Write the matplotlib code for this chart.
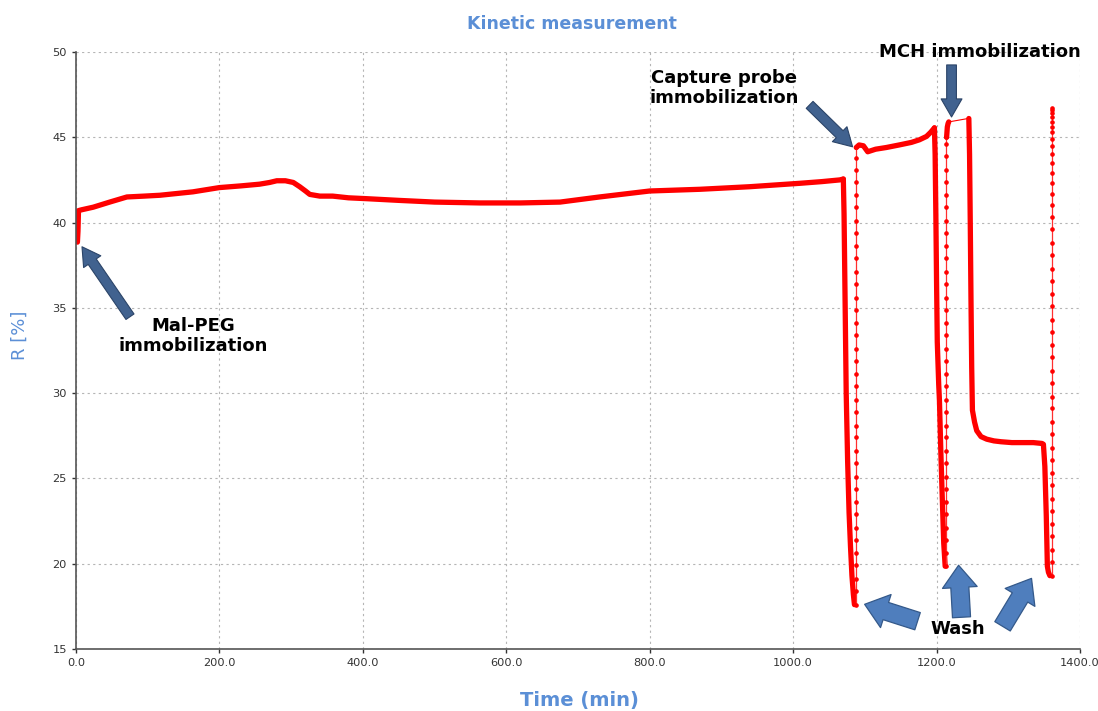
import matplotlib
matplotlib.use("Agg")
import matplotlib.pyplot as plt

# slow (densely sampled) parts of the trace
base_t = [0, 1, 2, 2.8, 3.5, 8, 24, 47, 71, 95, 117, 140, 163, 200, 230, 256, 270, 280, 292, 303,
          312, 320, 326, 340, 358, 380, 405, 450, 500, 563, 620, 675, 730, 800, 870, 939,
          1009, 1040, 1065, 1070]
base_r = [39.2, 38.9, 38.85, 39.5, 40.7, 40.75, 40.9, 41.2, 41.5, 41.55, 41.6, 41.7, 41.8, 42.05, 42.15,
          42.25, 42.35, 42.45, 42.45, 42.35, 42.1, 41.85, 41.65, 41.55, 41.55, 41.45, 41.4, 41.3, 41.2,
          41.15, 41.15, 41.2, 41.5, 41.85, 41.95, 42.1, 42.3, 42.4, 42.5, 42.55]

drop1_t = [1070, 1071, 1072, 1073, 1074, 1076, 1078, 1080, 1082, 1084, 1085.5]
drop1_r = [42.55, 40.5, 37.0, 33.5, 30.0, 26.0, 23.0, 21.0, 19.3, 18.2, 17.6]

probe_t = [1088, 1092, 1098, 1104, 1115, 1130, 1148, 1165, 1176, 1186, 1192, 1197]
probe_r = [44.4, 44.55, 44.5, 44.15, 44.3, 44.4, 44.55, 44.7, 44.85, 45.05, 45.3, 45.55]

drop2_t = [1197, 1198, 1199, 1200, 1201, 1203, 1204, 1206, 1208, 1210, 1212]
drop2_r = [45.55, 44.0, 40.5, 36.5, 33.0, 30.5, 29.6, 26.5, 23.8, 21.2, 19.85]

mch_t = [1214, 1215, 1216, 1217]
mch_r = [45.0, 45.6, 45.8, 45.9]

# gap in acquisition between the two MCH points
gap_t = [1217, 1244]
gap_r = [45.9, 46.1]

drop3_t = [1245, 1246, 1247, 1248, 1249, 1250, 1253, 1256, 1262, 1270, 1280, 1290, 1305,
           1320, 1335, 1347, 1349, 1351, 1353, 1354.5, 1356, 1358]
drop3_r = [46.1, 44.0, 40.0, 35.5, 31.5, 29.0, 28.3, 27.8, 27.45, 27.3, 27.2, 27.15, 27.1,
           27.1, 27.1, 27.05, 27.0, 25.7, 22.8, 19.85, 19.5, 19.3]

# fast rises, sparse samples
rise1_t = 1087
rise1_r = [17.6, 18.4, 19.1, 19.9, 20.6, 21.4, 22.1, 22.9, 23.6, 24.4, 25.1, 25.9, 26.6, 27.4,
           28.1, 28.9, 29.6, 30.4, 31.1, 31.9, 32.6, 33.4, 34.1, 34.9, 35.6, 36.4, 37.1, 37.9,
           38.6, 39.4, 40.1, 40.9, 41.6, 42.4, 43.1, 43.8, 44.4]
rise2_t = 1213.5
rise2_r = [19.85, 20.6, 21.4, 22.1, 22.9, 23.6, 24.4, 25.1, 25.9, 26.6, 27.4, 28.1, 28.9,
           29.6, 30.4, 31.1, 31.9, 32.6, 33.4, 34.1, 34.9, 35.6, 36.4, 37.1, 37.9, 38.6, 39.4,
           40.1, 40.9, 41.6, 42.4, 43.1, 43.9, 44.6, 45.0]
rise3_t = 1361
rise3_r = [19.3, 20.1, 20.8, 21.6, 22.3, 23.1, 23.8, 24.6, 25.3, 26.1, 26.8, 27.6, 28.3, 29.1,
           29.8, 30.6, 31.3, 32.1, 32.8, 33.6, 34.3, 35.1, 35.8, 36.6, 37.3, 38.1, 38.8, 39.6,
           40.3, 41.0, 41.7, 42.3, 42.9, 43.5, 44.0, 44.5, 44.9, 45.3, 45.6, 45.9, 46.2, 46.4, 46.6, 46.7]

x_ticks = [0, 200, 400, 600, 800, 1000, 1200, 1400]
y_ticks = [15, 20, 25, 30, 35, 40, 45, 50]

blue = '#5b8fd6'
red = '#ff0000'

fig = plt.figure(figsize=(10.98, 7.11), dpi=100)
ax = fig.add_axes([0.0692, 0.0872, 0.9144, 0.8397])

thick = dict(color=red, lw=3.8, solid_capstyle='round', solid_joinstyle='round')
for t, r in [(base_t, base_r), (drop1_t, drop1_r), (probe_t, probe_r), (drop2_t, drop2_r),
             (mch_t, mch_r), (drop3_t, drop3_r)]:
    ax.plot(t, r, **thick)
ax.plot(gap_t, gap_r, color=red, lw=0.8)

for t, r in [(rise1_t, rise1_r), (rise2_t, rise2_r), (rise3_t, rise3_r)]:
    ax.plot([t] * len(r), r, color='#ff3030', lw=0.9, marker='o', ms=2.3, mec=red, mfc=red)

ax.set_xlim(0, 1400)
ax.set_ylim(15, 50)
ax.set_xticks(x_ticks)
ax.set_xticklabels(['%.1f' % v for v in x_ticks])
ax.set_yticks(y_ticks)
ax.grid(True, ls=(0, (2, 3)), color='#b5b5b5', lw=0.8)
for s in ['top', 'right']:
    ax.spines[s].set_visible(False)
for s in ['left', 'bottom']:
    ax.spines[s].set_color('#555555')
    ax.spines[s].set_linewidth(1.2)
ax.tick_params(labelsize=8.2, colors='#333333', length=3, width=1)

fig.text(0.521, 0.966, 'Kinetic measurement', color=blue, fontsize=12.5,
         fontweight='bold', ha='center', va='center')
fig.text(0.528, 0.015, 'Time (min)', color=blue, fontsize=14,
         fontweight='bold', ha='center', va='center')
fig.text(0.018, 0.529, 'R [%]', color=blue, fontsize=13, rotation=90,
         ha='center', va='center')

lbl = dict(fontsize=13, fontweight='bold', ha='center', va='center', linespacing=1.15,
           clip_on=False, color='black')
ax.text(163, 33.37, 'Mal-PEG\nimmobilization', **lbl)
ax.text(904, 47.9, 'Capture probe\nimmobilization', **lbl)
ax.text(1261, 50.0, 'MCH immobilization', **lbl)
ax.text(1229, 16.16, 'Wash', **lbl)

dark = dict(arrowstyle='simple,head_length=1.3,head_width=1.5,tail_width=0.7',
            mutation_scale=10, fc='#41628f', ec='#2b4468', lw=0.8, shrinkA=0, shrinkB=0)
ax.annotate('', xy=(8.4, 38.58), xytext=(75.3, 34.48), arrowprops=dark, annotation_clip=False)
ax.annotate('', xy=(1082.9, 44.44), xytext=(1023, 46.9), arrowprops=dark, annotation_clip=False)
ax.annotate('', xy=(1220.9, 46.19), xytext=(1220.9, 49.24), arrowprops=dark, annotation_clip=False)

light = dict(arrowstyle='simple,head_length=1.6,head_width=2.5,tail_width=1.3',
             mutation_scale=10, fc='#4f7ebd', ec='#34598a', lw=0.9, shrinkA=0, shrinkB=0)
ax.annotate('', xy=(1099.7, 17.62), xytext=(1173.5, 16.63), arrowprops=light, annotation_clip=False)
ax.annotate('', xy=(1230.7, 19.91), xytext=(1234.8, 16.86), arrowprops=light, annotation_clip=False)
ax.annotate('', xy=(1332.4, 19.14), xytext=(1292, 16.33), arrowprops=light, annotation_clip=False)

fig.savefig('out.png', dpi=100)
